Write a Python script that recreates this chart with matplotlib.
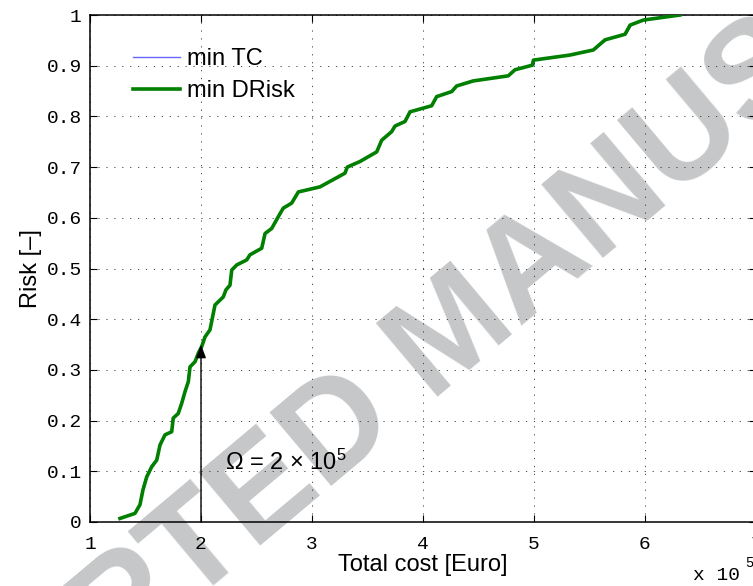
import matplotlib
matplotlib.use("Agg")
import matplotlib.pyplot as plt

plt.rcParams["mathtext.fontset"] = "custom"
plt.rcParams["mathtext.rm"] = "Liberation Sans"
plt.rcParams["mathtext.it"] = "Liberation Sans:italic"

# data (x in units of 1e5 Euro, risk in [-])
dr_cost = [1.270, 1.405, 1.450, 1.477, 1.511, 1.556, 1.601, 1.631, 1.676, 1.736,
           1.750, 1.795, 1.826, 1.856, 1.886, 1.901, 1.946, 1.976, 2.006, 2.036,
           2.081, 2.126, 2.201, 2.225, 2.261, 2.277, 2.322, 2.412, 2.441, 2.547,
           2.577, 2.637, 2.696, 2.741, 2.817, 2.877, 3.072, 3.297, 3.318, 3.432,
           3.583, 3.628, 3.718, 3.748, 3.838, 3.883, 4.078, 4.123, 4.259, 4.303,
           4.453, 4.768, 4.829, 4.985, 4.995, 5.324, 5.534, 5.640, 5.820, 5.865,
           5.985, 6.315]
dr_risk = [0.007, 0.017, 0.034, 0.063, 0.089, 0.109, 0.122, 0.152, 0.172, 0.178,
           0.205, 0.214, 0.234, 0.257, 0.277, 0.306, 0.316, 0.333, 0.346, 0.365,
           0.379, 0.428, 0.444, 0.458, 0.467, 0.497, 0.507, 0.517, 0.527, 0.540,
           0.569, 0.579, 0.602, 0.619, 0.629, 0.651, 0.661, 0.688, 0.700, 0.711,
           0.730, 0.753, 0.770, 0.781, 0.790, 0.809, 0.821, 0.839, 0.849, 0.860,
           0.870, 0.880, 0.892, 0.901, 0.911, 0.921, 0.931, 0.951, 0.962, 0.980,
           0.990, 1.000]

tc_cost = [1.270, 1.405, 1.445, 1.470, 1.505, 1.550, 1.596, 1.626, 1.670, 1.731,
           1.745, 1.790, 1.820, 1.850, 1.880, 1.896, 1.941, 1.971, 2.006, 2.036,
           2.081, 2.126, 2.201, 2.225, 2.261, 2.277, 2.322, 2.412, 2.441, 2.547,
           2.577, 2.637, 2.696, 2.741, 2.817, 2.877, 3.072, 3.297, 3.318, 3.432,
           3.583, 3.628, 3.718, 3.748, 3.838, 3.883, 4.078, 4.123, 4.259, 4.303,
           4.453, 4.775, 4.836, 5.000, 5.005, 5.324, 5.545, 5.652, 5.830, 5.878,
           5.990, 6.330]
tc_risk = dr_risk

xticks = [1, 2, 3, 4, 5, 6, 7]
xticklabels = ["1", "2", "3", "4", "5", "6", "7"]
yticks = [0, 0.1, 0.2, 0.3, 0.4, 0.5, 0.6, 0.7, 0.8, 0.9, 1]
yticklabels = ["0", "0.1", "0.2", "0.3", "0.4", "0.5", "0.6", "0.7", "0.8", "0.9", "1"]

omega = 2.0
omega_risk = 0.35

W, H = 753, 586
fig = plt.figure(figsize=(W / 100, H / 100), dpi=100)
fig.patch.set_facecolor("white")

# watermark
fig.text(455 / W, 1 - 335 / H, "ACCEPTED MANUSCRIPT", fontsize=100, fontweight="bold",
         family="Liberation Sans", color="#c6c7c8", rotation=40, rotation_mode="anchor",
         ha="center", va="center", zorder=-5)

ax = fig.add_axes([90 / W, (H - 522) / H, (756 - 90) / W, (522 - 15) / H])
ax.set_facecolor("none")

ax.plot(tc_cost, tc_risk, color="#0000ff", lw=0.8, label="min TC", zorder=3)
ax.plot(dr_cost, dr_risk, color="#007f00", lw=2.6, label="min DRisk", zorder=4)

ax.annotate("", xy=(omega, omega_risk), xytext=(omega, 0),
            arrowprops=dict(arrowstyle="-|>,head_length=0.8,head_width=0.3",
                            color="black", lw=1.0, shrinkA=0, shrinkB=0), zorder=5)
ax.text(2.215, 0.118, "\u03a9 = 2 \u00d7 10$^5$", fontsize=17,
        family="Liberation Sans", ha="left", va="center")

ax.set_xlim(1, 7)
ax.set_ylim(0, 1)
ax.set_xticks(xticks)
ax.set_xticklabels(xticklabels, family="Liberation Mono", fontsize=14)
ax.set_yticks(yticks)
ax.set_yticklabels(yticklabels, family="Liberation Mono", fontsize=14)
ax.tick_params(direction="in", length=5, width=0.8, top=True, right=True, pad=6)
ax.tick_params(axis="x", pad=10)

ax.grid(True, color="#333333", linestyle=(0, (1.5, 8)), lw=0.6)
for s in ax.spines.values():
    s.set_linewidth(1.1)

ax.set_xlabel("Total cost [Euro]", family="Liberation Sans", fontsize=17, labelpad=1)
ax.set_ylabel("Risk [\u2013]", family="Liberation Sans", fontsize=17, labelpad=3)

fig.text(693 / W, 1 - 576 / H, "x 10", family="Liberation Mono", fontsize=14,
         ha="left", va="center")
fig.text(745 / W, 1 - 563 / H, "5", family="Liberation Mono", fontsize=10,
         ha="left", va="center")

leg = ax.legend(loc="upper left", bbox_to_anchor=(43 / (756 - 90), 1 - 33 / (522 - 15)),
                frameon=False, prop={"family": "Liberation Sans", "size": 17},
                handlelength=2.0, handletextpad=0.3, labelspacing=0.42, borderpad=0,
                borderaxespad=0)
leg.legend_handles[0].set_color("#6666ff")
leg.legend_handles[0].set_linewidth(1.0)

fig.savefig("out.png", dpi=100)
